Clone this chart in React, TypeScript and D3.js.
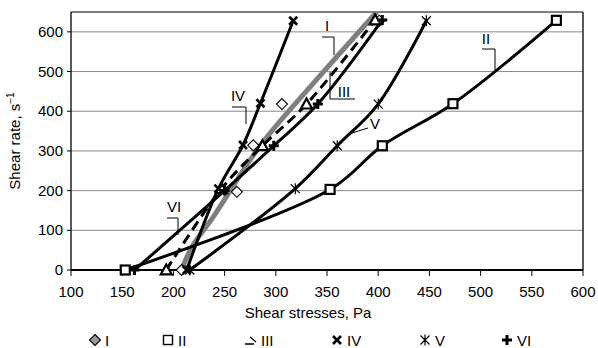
import React from "react";
import * as d3 from "d3";

// ---- data (shear stress, Pa  vs  shear rate, 1/s) ----
const xTicks = [100, 150, 200, 250, 300, 350, 400, 450, 500, 550, 600];
const yTicks = [0, 100, 200, 300, 400, 500, 600];
const seriesNames = ["I", "II", "III", "IV", "V", "VI"];

const stressI = [208, 262, 278, 306, 401];
const rateI = [0, 197, 314, 418, 628];
const fitStressI = [208, 218, 239, 285, 340, 398.5];
const fitRateI = [0, 58, 134, 314, 480, 650];

const stressII = [153, 353, 404, 473, 574];
const rateII = [0, 203, 313, 419, 629];

const stressIII = [193, 247, 287, 330, 397];
const rateIII = [0, 205, 313, 418, 630];

const stressIV = [213, 244, 268, 285, 317];
const rateIV = [0, 205, 315, 420, 628];

const stressV = [216, 319, 360, 400, 447];
const rateV = [0, 205, 313, 418, 628];

const stressVI = [162, 250, 298, 341, 404];
const rateVI = [0, 200, 313, 418, 630];

// ---- layout ----
const W = 598;
const H = 348;
const PL = 71, PR = 583, PT = 12, PB = 270;
const FONT = "'Liberation Sans', Arial, sans-serif";

const x = d3.scaleLinear().domain([100, 600]).range([PL, PR]);
const y = d3.scaleLinear().domain([0, 650]).range([PB, PT]);

type Marker = "diamond" | "square" | "triangle" | "cross" | "star" | "plus";

function MarkerShape({ type, cx, cy, legend }: { type: Marker; cx: number; cy: number; legend?: boolean }) {
  switch (type) {
    case "diamond": {
      const s = 5.5;
      return (
        <path
          d={`M${cx},${cy - s}L${cx + s},${cy}L${cx},${cy + s}L${cx - s},${cy}Z`}
          fill={legend ? "#9a9a9a" : "#fff"}
          stroke="#000"
          strokeWidth={1.1}
        />
      );
    }
    case "square": {
      const s = 4.5;
      return <rect x={cx - s} y={cy - s} width={2 * s} height={2 * s} fill="#fff" stroke="#000" strokeWidth={legend ? 1.4 : 2.2} />;
    }
    case "triangle": {
      if (legend) {
        return <path d={`M${cx - 6},${cy + 4}H${cx + 3}M${cx - 1},${cy - 3}L${cx + 5},${cy + 2}`} fill="none" stroke="#000" strokeWidth={1.3} />;
      }
      const s = 5.5;
      return (
        <path
          d={`M${cx},${cy - s}L${cx + s},${cy + s * 0.8}L${cx - s},${cy + s * 0.8}Z`}
          fill="#fff"
          stroke="#000"
          strokeWidth={2.2}
        />
      );
    }
    case "cross": {
      const s = 4;
      return (
        <path d={`M${cx - s},${cy - s}L${cx + s},${cy + s}M${cx - s},${cy + s}L${cx + s},${cy - s}`} stroke="#000" strokeWidth={2.6} />
      );
    }
    case "star": {
      const s = 4.5;
      return (
        <path
          d={`M${cx - s},${cy - s}L${cx + s},${cy + s}M${cx - s},${cy + s}L${cx + s},${cy - s}M${cx},${cy - s - 1}L${cx},${cy + s + 1}`}
          stroke="#000"
          strokeWidth={1.2}
        />
      );
    }
    case "plus": {
      const s = 5;
      return <path d={`M${cx - s},${cy}L${cx + s},${cy}M${cx},${cy - s}L${cx},${cy + s}`} stroke="#000" strokeWidth={3} />;
    }
  }
  return null;
}

const series = [
  { name: seriesNames[0], xs: stressI, ys: rateI, marker: "diamond" as Marker },
  { name: seriesNames[1], xs: stressII, ys: rateII, marker: "square" as Marker },
  { name: seriesNames[2], xs: stressIII, ys: rateIII, marker: "triangle" as Marker },
  { name: seriesNames[3], xs: stressIV, ys: rateIV, marker: "cross" as Marker },
  { name: seriesNames[4], xs: stressV, ys: rateV, marker: "star" as Marker },
  { name: seriesNames[5], xs: stressVI, ys: rateVI, marker: "plus" as Marker },
];

const legendSymX = [95, 168, 251, 337, 425, 507];

const line = d3
  .line<[number, number]>()
  .x((d) => x(d[0]))
  .y((d) => y(d[1]))
  .curve(d3.curveCatmullRom.alpha(0.5));

function pts(xs: number[], ys: number[]): [number, number][] {
  return xs.map((v, i) => [v, ys[i]] as [number, number]);
}

export default function App() {
  const blackLines = series.slice(1);
  return (
    <svg width={W} height={H} style={{ position: "absolute", left: 0, top: 0, background: "#fff" }} fontFamily={FONT}>
      <defs>
        <clipPath id="plotClip">
          <rect x={PL} y={PT} width={PR - PL} height={PB - PT} />
        </clipPath>
      </defs>
      <rect x={0} y={0} width={W} height={H} fill="#fff" />

      {/* grid */}
      {yTicks.filter((t) => t > 0).map((t) => (
        <line key={t} x1={PL} x2={PR} y1={y(t)} y2={y(t)} stroke="#8a8a8a" strokeWidth={1} />
      ))}

      {/* frame */}
      <line x1={PL} x2={PR} y1={PT} y2={PT} stroke="#000" strokeWidth={1} />
      <line x1={PR} x2={PR} y1={PT} y2={PB} stroke="#000" strokeWidth={1.3} />
      <line x1={PL} x2={PL} y1={PT} y2={PB} stroke="#000" strokeWidth={1.3} />

      {/* y ticks */}
      {yTicks.map((t) => (
        <g key={t}>
          <line x1={PL - 4} x2={PL} y1={y(t)} y2={y(t)} stroke="#000" strokeWidth={1} />
          <text x={PL - 8} y={y(t) + 5} textAnchor="end" fontSize={15} fill="#000">
            {t}
          </text>
        </g>
      ))}

      {/* lines */}
      <g clipPath="url(#plotClip)" fill="none" strokeLinejoin="round">
        <path d={line(pts(fitStressI, fitRateI)) || ""} stroke="#7f7f7f" strokeWidth={5} strokeLinecap="round" />
        {blackLines.map((s) => (
          <path
            key={s.name}
            d={line(pts(s.xs, s.ys)) || ""}
            stroke="#000"
            strokeWidth={3}
            strokeDasharray={s.name === "III" ? "10,6" : undefined}
            strokeLinecap={s.name === "III" ? "butt" : "round"}
          />
        ))}
      </g>

      {/* x axis */}
      <line x1={PL} x2={PR} y1={PB} y2={PB} stroke="#000" strokeWidth={2} />
      {xTicks.map((t) => (
        <g key={t}>
          <line x1={x(t)} x2={x(t)} y1={PB} y2={PB + 6} stroke="#000" strokeWidth={1} />
          <text x={x(t)} y={297} textAnchor="middle" fontSize={15} fill="#000">
            {t}
          </text>
        </g>
      ))}

      {/* markers */}
      {series.map((s) => (
        <g key={s.name}>
          {s.xs.map((v, i) => (
            <MarkerShape key={i} type={s.marker} cx={x(v)} cy={y(s.ys[i])} />
          ))}
        </g>
      ))}

      {/* series callouts */}
      <g fill="none" stroke="#000" strokeWidth={1}>
        <polyline points="322,37 334,37 334,55" />
        <polyline points="330,72 330,99 355,99" />
        <polyline points="232,107 246,107 246,124" />
        <polyline points="368,128 352,133" />
        <polyline points="482,49 495,49 495,70" />
        <polyline points="167,218 178,218 178,235" />
      </g>
      <g fontSize={15} textAnchor="middle" fill="#000">
        <text x={327} y={31}>{seriesNames[0]}</text>
        <text x={486} y={44}>{seriesNames[1]}</text>
        <text x={344} y={97}>{seriesNames[2]}</text>
        <text x={238} y={101}>{seriesNames[3]}</text>
        <text x={375} y={129}>{seriesNames[4]}</text>
        <text x={174} y={212}>{seriesNames[5]}</text>
      </g>

      {/* axis titles */}
      <text x={308} y={318} textAnchor="middle" fontSize={15} fill="#000">
        Shear stresses, Pa
      </text>
      <text transform={`translate(20,141) rotate(-90)`} textAnchor="middle" fontSize={15} fill="#000">
        Shear rate, s
        <tspan fontSize={10} dy={-6}>
          −1
        </tspan>
      </text>

      {/* legend */}
      {series.map((s, i) => (
        <g key={s.name}>
          <MarkerShape type={s.marker} cx={legendSymX[i]} cy={340} legend />
          <text x={legendSymX[i] + 10} y={346} fontSize={15} fill="#000">
            {s.name}
          </text>
        </g>
      ))}
    </svg>
  );
}
